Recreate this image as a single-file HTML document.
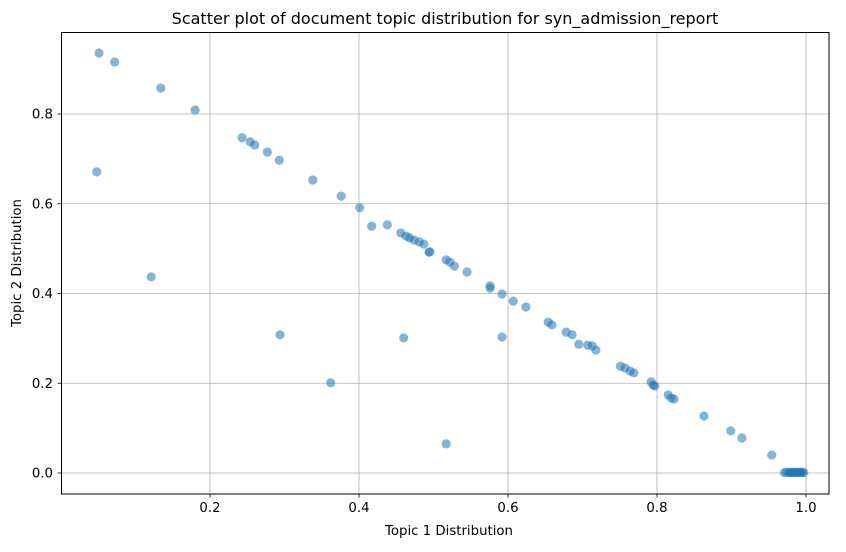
<!DOCTYPE html>
<html><head><meta charset="utf-8"><style>
body{margin:0;background:#fff;}
svg text{font-family:"DejaVu Sans","Liberation Sans",sans-serif;fill:#000;}
</style></head><body>
<svg id="chart" width="846" height="547" xmlns="http://www.w3.org/2000/svg">
<rect width="846" height="547" fill="#fff"/>
<g id="grid"></g>
<g id="points"></g>
<rect x="61.5" y="32.5" width="767.5" height="461.5" fill="none" stroke="#000" stroke-width="1"/>
<g id="ticks"></g>
<text x="445" y="24" text-anchor="middle" font-size="16">Scatter plot of document topic distribution for syn_admission_report</text>
<text x="449" y="535" text-anchor="middle" font-size="13.3">Topic 1 Distribution</text>
<text transform="translate(21,263) rotate(-90)" text-anchor="middle" font-size="13.3">Topic 2 Distribution</text>
</svg>
<script>
const xTicks=[0.2,0.4,0.6,0.8,1.0];
const xTickLabels=["0.2","0.4","0.6","0.8","1.0"];
const yTicks=[0,0.2,0.4,0.6,0.8];
const yTickLabels=["0.0","0.2","0.4","0.6","0.8"];
const topic1=[.051,.072,.134,.180,.048,.121,.243,.254,.260,.277,.293,.294,.338,.376,.401,.417,.438,.456,.463,.468,.474,.481,.487,.460,.362,.494,.495,.517,.522,.528,.545,.517,.576,.576,.592,.592,.607,.624,.654,.659,.678,.686,.695,.707,.713,.718,.751,.757,.764,.769,.792,.795,.797,.815,.819,.823,.863,.899,.914,.954,
.971,.974,.977,.979,.981,.983,.985,.987,.989,.991,.993,.995,.997];
const topic2=[.936,.916,.858,.809,.671,.437,.747,.738,.731,.715,.697,.308,.653,.617,.591,.550,.553,.535,.528,.524,.519,.515,.510,.301,.201,.492,.493,.475,.470,.461,.448,.065,.417,.412,.399,.303,.383,.370,.336,.330,.314,.308,.287,.285,.283,.274,.238,.234,.227,.223,.203,.196,.194,.174,.167,.165,.127,.094,.078,.040,
.001,.002,.001,.001,.002,.001,.001,.002,.001,.001,.002,.001,.001];
const NS="http://www.w3.org/2000/svg";
const sx=v=>61+v*745, sy=v=>473-v*448.75;
const grid=document.getElementById('grid'),ticks=document.getElementById('ticks'),pts=document.getElementById('points');
function mk(tag,attrs,parent){const e=document.createElementNS(NS,tag);for(const k in attrs)e.setAttribute(k,attrs[k]);parent.appendChild(e);return e;}
xTicks.forEach((v,i)=>{const x=sx(v);
const g=mk('line',{x1:x,x2:x,y1:32.5,y2:494,stroke:'#b0b0b0','stroke-width':0.8},grid);


const t=mk('line',{x1:x,x2:x,y1:494,y2:497.5,stroke:'#000','stroke-width':0.8},ticks);


const l=mk('text',{x:x,y:512,'text-anchor':'middle','font-size':13.3},ticks);l.textContent=xTickLabels[i];

});
yTicks.forEach((v,i)=>{const y=sy(v);
const g=mk('line',{x1:61.5,x2:829,y1:y,y2:y,stroke:'#b0b0b0','stroke-width':0.8},grid);


const t=mk('line',{x1:57.5,x2:61.5,y1:y,y2:y,stroke:'#000','stroke-width':0.8},ticks);


const l=mk('text',{x:53,y:y+4.5,'text-anchor':'end','font-size':13.3},ticks);l.textContent=yTickLabels[i];

});
topic1.forEach((v,i)=>{const c=mk('circle',{cx:sx(v),cy:sy(topic2[i]),r:4.6,fill:'#1f77b4','fill-opacity':0.55},pts);

});
</script>
</body></html>
